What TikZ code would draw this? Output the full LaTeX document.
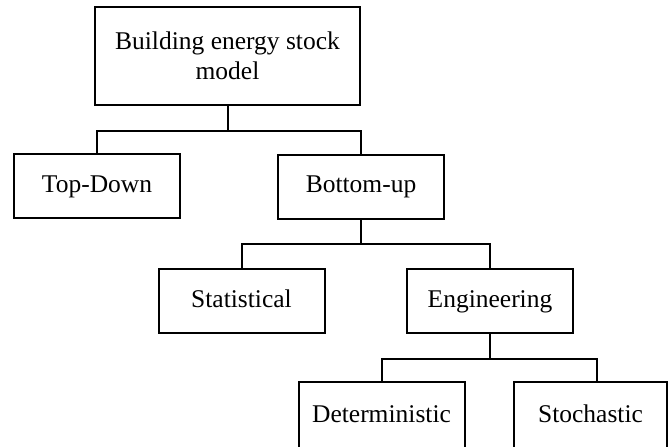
\documentclass[tikz,border=0pt]{standalone}
\usepackage{fontspec}
\setmainfont{Liberation Serif}
\usepackage{tikz}

\tikzset{
  model box/.style = {draw, line width = 1pt, align = center,
                      minimum width = 83pt, minimum height = 32pt,
                      inner sep = 0pt,
                      font = \fontsize{12.75}{15}\selectfont},
  leaf box/.style  = {model box, text height = 0.8em, text depth = 0.2em},
  tree line/.style = {line width = 1pt}
}

\begin{document}
\begin{tikzpicture}[x = 0.5pt, y = -0.5pt]
\useasboundingbox (0, 0) rectangle (669, 446);

\node[model box, minimum width = 132.5pt, minimum height = 49pt]
     (stock) at (227.5, 56) {Building energy stock\\model};

\node[leaf box] (topdown)  at (97, 186)    {Top-Down};
\node[leaf box] (bottomup) at (361, 186.5) {Bottom-up};

\node[leaf box] (stat) at (241.5, 301) {Statistical};
\node[leaf box] (engi) at (490, 301)   {Engineering};

% bottom row runs past the lower edge
\node[leaf box, minimum height = 34pt] (deter) at (381.5, 416) {Deterministic};
\node[leaf box, minimum height = 34pt, minimum width = 76.5pt]
     (stoch) at (590.5, 416) {Stochastic};

% branches
\draw[tree line] (stock.south) -- ++(0, 25) -| (topdown.north);
\draw[tree line] (stock.south) -- ++(0, 25) -| (bottomup.north);

\draw[tree line] (bottomup.south) -- ++(0, 24) -| (stat.north);
\draw[tree line] (bottomup.south) -- ++(0, 24) -| (engi.north);

\draw[tree line] (engi.south) -- ++(0, 25) -| (deter.north);
\draw[tree line] (engi.south) -- ++(0, 25) -| ([xshift = 3pt] stoch.north);
\end{tikzpicture}
\end{document}
